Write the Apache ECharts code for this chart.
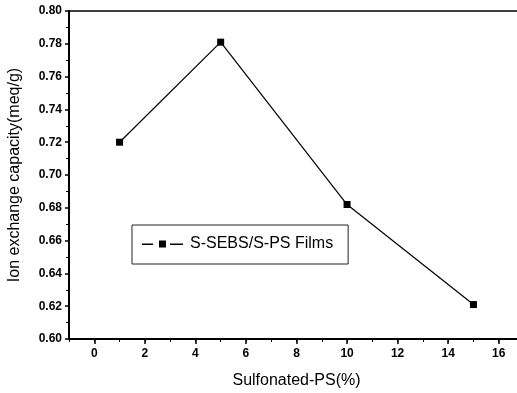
<!DOCTYPE html>
<html><head><meta charset="utf-8">
<script src="https://cdn.jsdelivr.net/npm/echarts@6/dist/echarts.min.js"></script>
<style>html,body{margin:0;padding:0;background:#fff}#c{width:517px;height:393px}</style>
</head><body><div id="c"></div>
<script>
var xValues = [1, 5, 10, 15];
var icValues = [0.720, 0.781, 0.682, 0.621];
var xTickLabels = [0, 2, 4, 6, 8, 10, 12, 14, 16];
var seriesName = 'S-SEBS/S-PS Films';

var font = 'Liberation Sans, Arial, sans-serif';
var chart = echarts.init(document.getElementById('c'));
chart.setOption({
  animation: false,
  backgroundColor: '#fff',
  grid: { left: 69, top: 11, right: -7, bottom: 54, show: true, borderColor: '#000', borderWidth: 1.5,
    outerBoundsMode: 'none', containLabel: false },
  legend: {
    data: [{ name: seriesName, icon: 'path://M0,3 h11 v1.4 h-11 Z M17,0 h7 v7 h-7 Z M28,3 h13 v1.4 h-13 Z' }],
    left: 132, top: 225, orient: 'horizontal',
    borderColor: '#222', borderWidth: 1, padding: [11, 15, 12, 10],
    itemWidth: 41, itemHeight: 7, itemGap: 10,
    itemStyle: { color: '#000' },
    textStyle: { fontFamily: font, fontSize: 16, color: '#000', padding: [0, 0, 0, 2] }
  },
  xAxis: [{
    type: 'value', min: -1, max: 17,
    name: 'Sulfonated-PS(%)', nameLocation: 'middle', nameGap: 34,
    nameTextStyle: { fontFamily: font, fontSize: 16, color: '#000' },
    axisLine: { show: true, onZero: false, lineStyle: { color: '#000', width: 2 } },
    axisTick: { show: true, inside: false, length: 5, customValues: xTickLabels, lineStyle: { color: '#000', width: 1.5 } },
    axisLabel: { customValues: xTickLabels, margin: 9, fontFamily: font, fontSize: 12, fontWeight: 'bold', color: '#000' },
    splitLine: { show: false }
  }, {
    type: 'value', min: -1, max: 17, interval: 1, position: 'bottom',
    axisLine: { show: false, onZero: false },
    axisTick: { show: true, length: 3, lineStyle: { color: '#000', width: 1 } },
    axisLabel: { show: false }, splitLine: { show: false }
  }],
  yAxis: {
    type: 'value', min: 0.6, max: 0.8, interval: 0.02,
    name: 'Ion exchange capacity(meq/g)', nameLocation: 'middle', nameGap: 46, nameRotate: 90,
    nameTextStyle: { fontFamily: font, fontSize: 16, color: '#000' },
    axisLine: { show: true, onZero: false, lineStyle: { color: '#000', width: 2 } },
    axisTick: { show: true, length: 4, lineStyle: { color: '#000', width: 1.5 } },
    minorTick: { show: true, splitNumber: 2, length: 3, lineStyle: { color: '#000', width: 1 } },
    axisLabel: { margin: 7, fontFamily: font, fontSize: 12, fontWeight: 'bold', color: '#000',
      formatter: function (v) { return v.toFixed(2); } },
    splitLine: { show: false }
  },
  series: [{
    name: seriesName, type: 'line', xAxisIndex: 0,
    data: xValues.map(function (x, i) { return [x, icValues[i]]; }),
    symbol: 'rect', symbolSize: 7, showAllSymbol: true,
    lineStyle: { color: '#000', width: 1.2 },
    itemStyle: { color: '#000' }
  }]
});
</script></body></html>
